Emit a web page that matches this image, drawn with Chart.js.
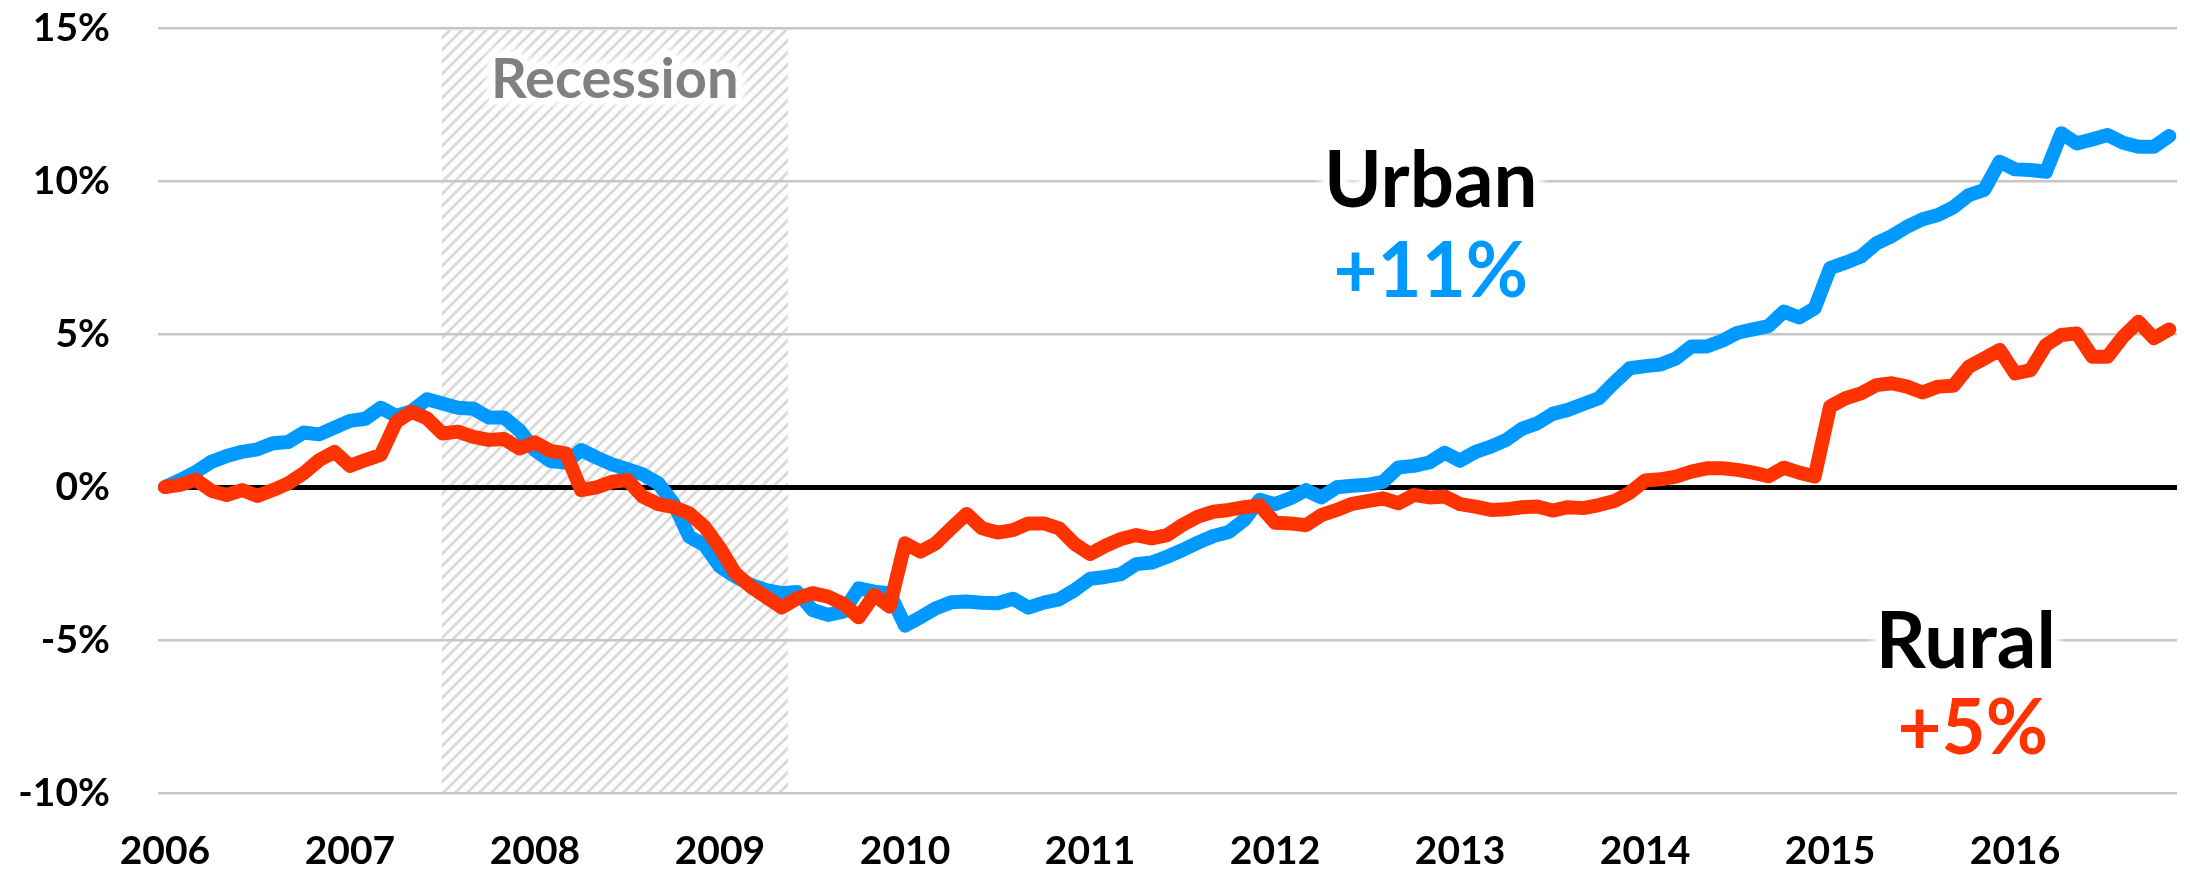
<!DOCTYPE html>
<html>
<head>
<meta charset="utf-8">
<script src="https://cdn.jsdelivr.net/npm/chart.js@4.4.1/dist/chart.umd.min.js"></script>
<style>
html,body{margin:0;padding:0;background:#ffffff;}
canvas{display:block;}
</style>
</head>
<body>
<canvas id="c" width="2190" height="876"></canvas>
<script>
// ---------- DATA ----------
const yearLabels = ['2006','2007','2008','2009','2010','2011','2012','2013','2014','2015','2016'];

// month categories Jan 2006 .. Nov 2016 (131 months)
const monthLabels = [];
for (const y of yearLabels) {
  for (let m = 1; m <= 12; m++) monthLabels.push(y + '-' + String(m).padStart(2, '0'));
}
monthLabels.length = 131;

// cumulative change since Jan 2006, percent
const urban = [
  0.00, 0.23, 0.49, 0.82, 1.01, 1.15, 1.23, 1.43, 1.47, 1.78, 1.72, 1.94,
  2.16, 2.23, 2.59, 2.32, 2.48, 2.87, 2.73, 2.59, 2.56, 2.27, 2.27, 1.85,
  1.20, 0.85, 0.80, 1.21, 0.96, 0.74, 0.58, 0.41, 0.12, -0.55, -1.62, -1.90,
  -2.60, -2.93, -3.20, -3.37, -3.47, -3.43, -4.02, -4.18, -4.07, -3.31, -3.42, -3.47,
  -4.53, -4.26, -3.96, -3.77, -3.74, -3.78, -3.80, -3.65, -3.94, -3.78, -3.67, -3.37,
  -3.00, -2.94, -2.85, -2.52, -2.47, -2.28, -2.06, -1.82, -1.60, -1.47, -1.08, -0.42,
  -0.56, -0.37, -0.10, -0.34, -0.01, 0.04, 0.07, 0.17, 0.64, 0.69, 0.80, 1.12,
  0.86, 1.15, 1.32, 1.54, 1.90, 2.08, 2.39, 2.52, 2.71, 2.90, 3.41, 3.88,
  3.95, 4.00, 4.20, 4.59, 4.59, 4.78, 5.04, 5.15, 5.26, 5.73, 5.54, 5.84,
  7.15, 7.33, 7.53, 7.96, 8.20, 8.51, 8.75, 8.89, 9.14, 9.54, 9.71, 10.63,
  10.38, 10.36, 10.30, 11.56, 11.23, 11.36, 11.50, 11.25, 11.12, 11.12, 11.47
];
const rural = [
  0.00, 0.07, 0.24, -0.12, -0.26, -0.10, -0.29, -0.10, 0.12, 0.45, 0.88, 1.15,
  0.69, 0.88, 1.05, 2.13, 2.46, 2.24, 1.75, 1.81, 1.64, 1.54, 1.57, 1.26,
  1.46, 1.18, 1.10, -0.10, -0.01, 0.17, 0.23, -0.32, -0.56, -0.66, -0.86, -1.30,
  -2.00, -2.82, -3.26, -3.60, -3.94, -3.64, -3.47, -3.58, -3.82, -4.26, -3.53, -3.91,
  -1.84, -2.11, -1.84, -1.35, -0.88, -1.35, -1.49, -1.41, -1.19, -1.19, -1.35, -1.86,
  -2.19, -1.92, -1.70, -1.57, -1.68, -1.57, -1.24, -0.97, -0.81, -0.75, -0.66, -0.60,
  -1.17, -1.19, -1.25, -0.92, -0.75, -0.55, -0.46, -0.37, -0.53, -0.26, -0.34, -0.31,
  -0.56, -0.64, -0.75, -0.73, -0.66, -0.64, -0.77, -0.66, -0.69, -0.59, -0.46, -0.19,
  0.21, 0.25, 0.34, 0.50, 0.61, 0.61, 0.56, 0.47, 0.35, 0.63, 0.47, 0.34,
  2.63, 2.90, 3.06, 3.33, 3.39, 3.28, 3.09, 3.28, 3.31, 3.93, 4.20, 4.48,
  3.71, 3.82, 4.64, 4.97, 5.02, 4.26, 4.26, 4.91, 5.40, 4.86, 5.15
];

const yTicks = [-10, -5, 0, 5, 10, 15];
// recession span in month-index units (Jul 2007 .. mid May 2009)
const recessionSpan = [17.95, 40.4];
const recessionLabel = 'Recession';
const seriesNames = ['Urban', 'Rural'];
const seriesChanges = ['+11%', '+5%'];

// ---------- STYLE ----------
const FONT = 'Lato, "Open Sans", "Liberation Sans", sans-serif';
const BLUE = '#0099FF';
const RED = '#FF3300';

const monthIdx = monthLabels.map((_, i) => i);

function makeHatch() {
  const s = 12;
  const p = document.createElement('canvas');
  p.width = s; p.height = s;
  const g = p.getContext('2d');
  g.strokeStyle = '#dadada';
  g.lineWidth = 3.0;
  g.lineCap = 'square';
  g.beginPath();
  g.moveTo(-2, s + 2); g.lineTo(s + 2, -2);
  g.moveTo(-2, 2); g.lineTo(2, -2);
  g.moveTo(s - 2, s + 2); g.lineTo(s + 2, s - 2);
  g.stroke();
  return p;
}

const hatchPlugin = {
  id: 'hatch',
  beforeDraw(chart) {
    const {ctx, chartArea, scales} = chart;
    const x0 = scales.x.getPixelForValue(recessionSpan[0]);
    const x1 = scales.x.getPixelForValue(recessionSpan[1]);
    ctx.save();
    ctx.fillStyle = ctx.createPattern(makeHatch(), 'repeat');
    ctx.fillRect(x0, chartArea.top + 2, x1 - x0, chartArea.bottom - chartArea.top - 2);
    ctx.restore();
  }
};

function glowText(ctx, text, x, y, size, color) {
  ctx.save();
  ctx.font = 'bold ' + size + 'px ' + FONT;
  ctx.textAlign = 'center';
  ctx.textBaseline = 'alphabetic';
  ctx.lineJoin = 'round';
  ctx.shadowColor = 'rgba(255,255,255,1)';
  ctx.shadowBlur = 12;
  ctx.strokeStyle = '#ffffff';
  ctx.lineWidth = 12;
  ctx.strokeText(text, x, y);
  ctx.strokeText(text, x, y);
  ctx.shadowBlur = 0;
  ctx.fillStyle = color;
  ctx.fillText(text, x, y);
  ctx.restore();
}

const labelPlugin = {
  id: 'labels',
  afterDatasetsDraw(chart) {
    const {ctx, scales} = chart;
    const X = v => scales.x.getPixelForValue(v);
    const Y = v => scales.y.getPixelForValue(v);
    glowText(ctx, recessionLabel, X((recessionSpan[0] + recessionSpan[1]) / 2), Y(12.71), 56, '#808080');
    glowText(ctx, seriesNames[0], X(82.1), Y(9.15), 78, '#000000');
    glowText(ctx, seriesChanges[0], X(82.1), Y(6.21), 76, BLUE);
    glowText(ctx, seriesNames[1], X(116.8), Y(-5.92), 78, '#000000');
    glowText(ctx, seriesChanges[1], X(117.25), Y(-8.73), 76, RED);
  }
};

new Chart(document.getElementById('c'), {
  type: 'line',
  data: {
    labels: monthIdx,
    datasets: [
      {
        label: seriesNames[1], data: rural, borderColor: RED, backgroundColor: RED,
        borderWidth: 14, pointRadius: 0, tension: 0, fill: false,
        borderJoinStyle: 'round', borderCapStyle: 'round'
      },
      {
        label: seriesNames[0], data: urban, borderColor: BLUE, backgroundColor: BLUE,
        borderWidth: 14, pointRadius: 0, tension: 0, fill: false,
        borderJoinStyle: 'round', borderCapStyle: 'round'
      }
    ]
  },
  options: {
    responsive: false,
    animation: false,
    devicePixelRatio: 1,
    layout: { padding: { top: 28, right: 13, bottom: 0, left: 0 } },
    plugins: { legend: { display: false }, tooltip: { enabled: false } },
    scales: {
      x: {
        type: 'linear',
        min: -0.45,
        max: 130.5,
        afterBuildTicks(scale) {
          scale.ticks = yearLabels.map((_, k) => ({ value: k * 12 }));
        },
        afterFit(scale) { scale.height = 83; scale.paddingLeft = 0; scale.paddingRight = 0; },
        grid: { display: false, drawTicks: false },
        border: { display: false },
        ticks: {
          autoSkip: false, maxRotation: 0, padding: 35, color: '#000000',
          font: { family: FONT, size: 39, weight: 'bold' },
          callback: (v) => yearLabels[Math.round(v / 12)]
        }
      },
      y: {
        min: -10,
        max: 15,
        afterBuildTicks(scale) {
          scale.ticks = yTicks.map(v => ({ value: v }));
        },
        afterFit(scale) { scale.width = 158; scale.paddingTop = 0; scale.paddingBottom = 0; },
        border: { display: false },
        grid: {
          drawTicks: false,
          color: (c) => (c.tick && c.tick.value === 0) ? '#000000' : '#c6c6c6',
          lineWidth: (c) => (c.tick && c.tick.value === 0) ? 5 : 2.5
        },
        ticks: {
          padding: 48, color: '#000000',
          font: { family: FONT, size: 39, weight: 'bold' },
          callback: (v) => v + '%'
        }
      }
    }
  },
  plugins: [hatchPlugin, labelPlugin]
});
</script>
</body>
</html>
